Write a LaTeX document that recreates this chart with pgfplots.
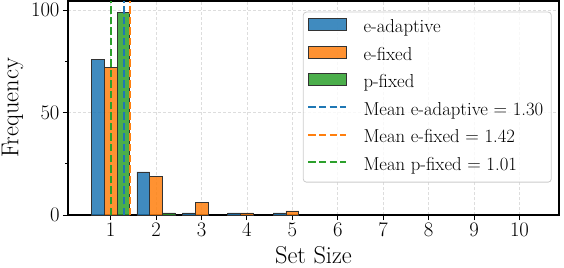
\documentclass[border=0pt]{standalone}
\usepackage{pgfplots}
\pgfplotsset{compat=1.18}
\definecolor{cblue}{HTML}{1F77B4}
\definecolor{corange}{HTML}{FF7F0E}
\definecolor{cgreen}{HTML}{2CA02C}
\definecolor{edgec}{HTML}{333333}
\definecolor{gridc}{HTML}{DDDDDD}
\definecolor{legc}{HTML}{CCCCCC}
\begin{document}
\begin{tikzpicture}
\begin{axis}[
  scale only axis, width=491bp, height=214bp,
  xmin=0.06, xmax=10.87, ymin=0, ymax=104.4,
  xtick={1,2,3,4,5,6,7,8,9,10}, ytick={0,50,100}, minor ytick={25,75},
  tick pos=left, tick align=outside,
  major tick length=5bp, minor tick length=2.5bp,
  every tick/.style={black, line width=1bp},
  axis line style={line width=1.25bp},
  grid=major, major grid style={gridc, dash pattern=on 3bp off 2bp, line width=0.8bp},
  tick label style={font=\fontsize{20}{24}\selectfont},
  label style={font=\fontsize{24.5}{29}\selectfont},
  xlabel={Set Size}, ylabel={Frequency},
  xlabel style={at={(axis description cs:0.5,0)}, anchor=north, yshift=-27.5bp},
  ylabel style={at={([xshift=-55.4bp]axis description cs:0,0.5)}, anchor=center},
  legend cell align=left,
  legend style={at={(0.985,0.95)}, anchor=north east, draw=legc, line width=0.8bp,
    rounded corners=3bp, fill=white, fill opacity=0.8, text opacity=1, draw opacity=1,
    font=\fontsize{18.8}{22}\selectfont, inner xsep=4bp, inner ysep=2.5bp, row sep=0pt,
    nodes={text height=13bp, text depth=4.5bp, inner ysep=5bp, inner xsep=4bp},
    /tikz/every odd column/.append style={column sep=12bp}},
]
\addplot[ybar, bar width=12.8bp, bar shift=-12.8bp, fill=cblue, fill opacity=0.85, draw=edgec, line width=0.8bp,
  legend image code/.code={\draw[sharp corners, fill=cblue, fill opacity=0.85, draw=edgec, line width=0.8bp] (0bp,-2.5bp) rectangle (38bp,9.5bp);}]
  coordinates {(1,76) (2,21) (3,1) (4,1) (5,1)};
\addlegendentry{e-adaptive}
\addplot[ybar, bar width=12.8bp, bar shift=0bp, fill=corange, fill opacity=0.85, draw=edgec, line width=0.8bp,
  legend image code/.code={\draw[sharp corners, fill=corange, fill opacity=0.85, draw=edgec, line width=0.8bp] (0bp,-2.5bp) rectangle (38bp,9.5bp);}]
  coordinates {(1,72) (2,19) (3,6) (4,1) (5,2)};
\addlegendentry{e-fixed}
\addplot[ybar, bar width=12.8bp, bar shift=12.8bp, fill=cgreen, fill opacity=0.85, draw=edgec, line width=0.8bp,
  legend image code/.code={\draw[sharp corners, fill=cgreen, fill opacity=0.85, draw=edgec, line width=0.8bp] (0bp,-2.5bp) rectangle (38bp,9.5bp);}]
  coordinates {(1,99) (2,1)};
\addlegendentry{p-fixed}
\addplot[cblue, line width=2.2bp, dash pattern=on 7.4bp off 3.2bp,
  legend image code/.code={\draw[sharp corners, cblue, line width=2.2bp, dash pattern=on 7.4bp off 3.2bp] (0bp,3.5bp) -- (38bp,3.5bp);}]
  coordinates {(1.30,0) (1.30,104.4)};
\addlegendentry{Mean e-adaptive = 1.30}
\addplot[corange, line width=2.2bp, dash pattern=on 7.4bp off 3.2bp,
  legend image code/.code={\draw[sharp corners, corange, line width=2.2bp, dash pattern=on 7.4bp off 3.2bp] (0bp,3.5bp) -- (38bp,3.5bp);}]
  coordinates {(1.42,0) (1.42,104.4)};
\addlegendentry{Mean e-fixed = 1.42}
\addplot[cgreen, line width=2.2bp, dash pattern=on 7.4bp off 3.2bp,
  legend image code/.code={\draw[sharp corners, cgreen, line width=2.2bp, dash pattern=on 7.4bp off 3.2bp] (0bp,3.5bp) -- (38bp,3.5bp);}]
  coordinates {(1.01,0) (1.01,104.4)};
\addlegendentry{Mean p-fixed = 1.01}
\end{axis}
\pgfresetboundingbox
\path (-68bp,-53bp) rectangle (496bp,215bp);
\end{tikzpicture}
\end{document}
